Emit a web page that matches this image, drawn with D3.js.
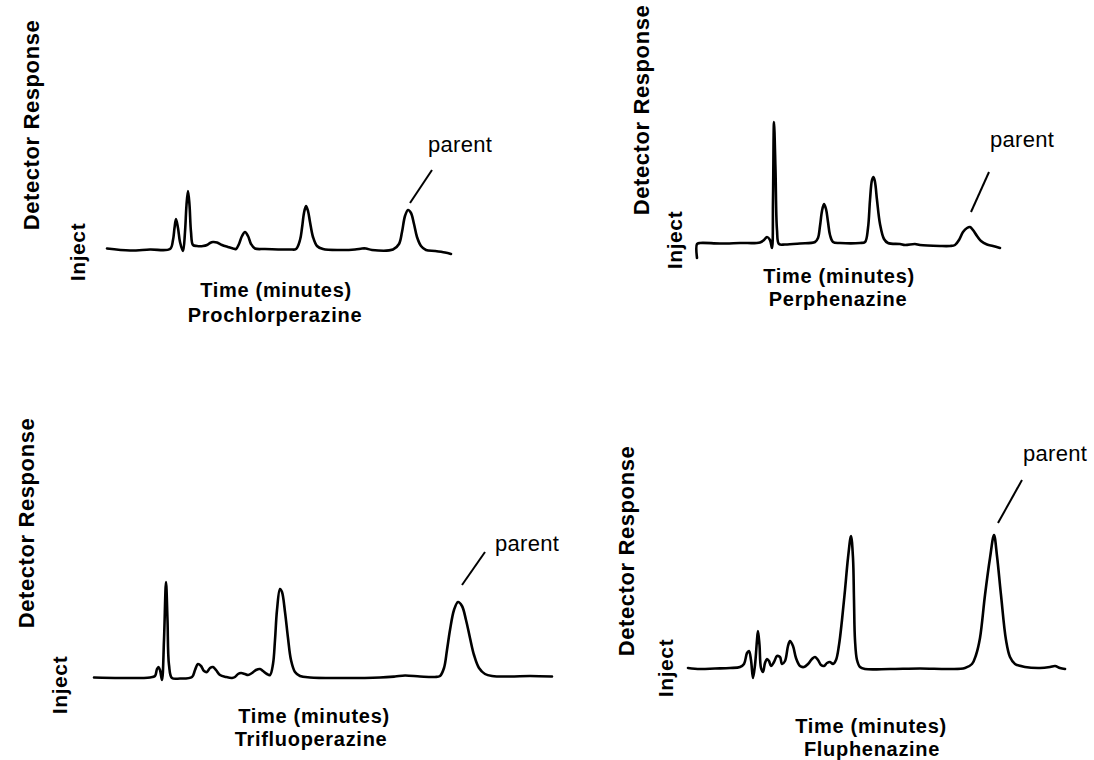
<!DOCTYPE html>
<html>
<head>
<meta charset="utf-8">
<script src="https://cdn.jsdelivr.net/npm/d3@7/dist/d3.min.js"></script>
<style>
  html, body { margin: 0; padding: 0; background: #fff; }
  svg { display: block; }
  .lbl { font-family: "Liberation Sans", Arial, sans-serif; fill: #000; }
  .bold { font-weight: bold; }
</style>
</head>
<body>
<svg id="chart" width="1094" height="760"></svg>
<script>
// Chromatogram traces: [retention time (min), detector response]
const prochlorperazineTrace = [
  [0,0.5],[1.15,-1.5],[2.15,-0.5],[3.15,0],[3.3,9],[3.375,21],[3.45,30],[3.55,21],[3.65,7],
  [3.8,-2],[3.9,17],[3.975,44],[4.05,58],[4.125,44],[4.2,17],[4.3,4],[4.5,3],[4.8,3],[5.0,4],
  [5.15,6],[5.3,7],[5.5,6.5],[5.75,4],[6.05,2],[6.3,0.5],[6.45,0],[6.6,5],[6.75,13],[6.9,17],
  [7.05,13],[7.2,5],[7.4,0.5],[7.9,0],[9.15,-0.5],[9.45,0],[9.65,9],[9.75,21],[9.85,36],
  [9.95,43],[10.05,38],[10.15,27],[10.3,12],[10.5,3],[10.8,0],[11.65,-1],[12.4,-0.5],
  [12.75,0.5],[12.95,0.5],[13.25,-1],[14.3,-0.5],[14.6,5],[14.75,17],[14.9,33],[15.05,39],
  [15.2,36],[15.35,25],[15.5,12],[15.7,3],[15.95,-1],[16.4,-2],[16.9,-3.5],[17.2,-5]
];
const perphenazineTrace = [
  [0,-15],[0,-1],[0.15,0],[1.15,-0.5],[2.15,0],[3.15,0.5],[3.35,3],[3.5,6],[3.65,3],[3.75,-5],
  [3.8,43],[3.85,121],[3.925,73],[4.0,13],[4.1,-1],[4.4,-1.5],[5.15,-0.5],[5.9,1],[6.05,5],
  [6.15,17],[6.25,32],[6.35,39],[6.45,34],[6.55,21],[6.65,8],[6.8,1],[7.15,0],[8.15,0],
  [8.4,1],[8.55,15],[8.65,43],[8.75,63],[8.825,66],[8.9,61],[9.0,43],[9.15,19],[9.35,4],
  [9.55,0],[10.15,-1],[10.4,-2],[10.9,-1],[11.15,-2],[12.15,-3],[12.65,-3],[12.9,-2],
  [13.1,3],[13.3,11],[13.5,15],[13.65,16],[13.8,13],[14.0,7],[14.2,2],[14.5,-1.5],
  [14.8,-3],[15.15,-5]
];
const trifluoperazineTrace = [
  [0,0.5],[1.3,0],[2.8,0.5],[3.05,2],[3.15,9],[3.225,11],[3.3,8],[3.4,-2],[3.5,38],[3.6,96],
  [3.675,58],[3.75,13],[3.9,0],[4.3,-0.5],[4.9,1],[5.05,8],[5.2,14],[5.35,12],[5.5,7],
  [5.65,6],[5.8,10],[5.95,11],[6.1,8],[6.3,3],[6.6,1],[6.9,0],[7.05,1],[7.2,4],[7.35,5],
  [7.55,4],[7.7,3],[7.9,5],[8.1,8],[8.3,9],[8.45,7],[8.65,4],[8.8,3],[8.95,14],[9.05,38],
  [9.15,68],[9.3,89],[9.4,86],[9.55,66],[9.7,40],[9.85,18],[10.05,6],[10.3,2],[10.8,0.5],
  [12.3,0],[14.3,0.5],[15.05,1.5],[15.55,2.5],[16.3,1.5],[17.05,1],[17.3,2],[17.5,10],
  [17.65,28],[17.8,48],[18.0,68],[18.2,76],[18.4,72],[18.6,58],[18.8,40],[19.0,23],
  [19.25,10],[19.55,4],[19.9,2],[20.8,1.5],[21.8,2],[22.9,1.5]
];
const fluphenazineTrace = [
  [0,0],[0.6,-1],[1.35,-0.5],[2.1,0],[2.6,1],[2.8,4],[2.95,15],[3.05,17],[3.15,8],[3.25,-10],
  [3.35,3],[3.45,28],[3.5,37],[3.575,23],[3.65,0],[3.75,-4],[3.85,5],[3.95,9],[4.05,7],
  [4.15,2],[4.3,6],[4.45,12],[4.6,11],[4.7,4],[4.85,7],[5.0,22],[5.1,27],[5.25,22],[5.4,10],
  [5.6,2],[5.8,1],[6.0,4],[6.2,9],[6.35,11],[6.5,8],[6.65,3],[6.8,2],[6.95,5],[7.1,6],
  [7.25,4],[7.4,8],[7.55,23],[7.7,48],[7.85,78],[8.0,110],[8.15,132],[8.25,110],[8.3,68],
  [8.35,28],[8.45,8],[8.6,1],[8.85,-1],[10.1,-1],[11.6,-0.5],[13.1,-1],[13.85,0],[14.2,4],
  [14.4,13],[14.6,30],[14.85,73],[15.1,110],[15.3,133],[15.45,112],[15.65,73],[15.9,28],
  [16.1,11],[16.35,4],[16.85,1],[17.6,0],[18.1,1],[18.35,2],[18.6,0],[18.85,-1]
];

// Drug names and the retention time of each parent peak
const drugNames = ["Prochlorperazine", "Perphenazine", "Trifluoperazine", "Fluphenazine"];
const parentTimes = [15.05, 13.65, 18.2, 15.3];
const traces = [prochlorperazineTrace, perphenazineTrace, trifluoperazineTrace, fluphenazineTrace];

const xTitle = "Time (minutes)";
const yTitle = "Detector Response";
const injectText = "Inject";
const peakText = "parent";

// Panel layout: trace box, axis-title positions, leader geometry
const layout = [
  { x0: 107, x1: 451, base: 249, yTitle: [39, 125], inject: [85, 252],
    xTitle: [276, 297], name: [275, 322], lead: [2, -7, 22, -33], tag: [-4, -18] },
  { x0: 697, x1: 1000, base: 243, yTitle: [649, 110], inject: [682, 240],
    xTitle: [839, 283], name: [838, 306], lead: [1, -15, 18, -40], tag: [1, -25] },
  { x0: 94, x1: 552, base: 678, yTitle: [34, 523], inject: [67, 685],
    xTitle: [314, 723], name: [311, 746], lead: [4, -17, 23, -33], tag: [10, -1] },
  { x0: 688, x1: 1065, base: 668, yTitle: [634, 551], inject: [673, 668],
    xTitle: [871, 733], name: [872, 756], lead: [4, -12, 24, -43], tag: [1, -19] }
];

const svg = d3.select("#chart");
svg.append("rect").attr("width", 1094).attr("height", 760).attr("fill", "#fff");

traces.forEach((trace, i) => {
  const L = layout[i];
  const tMax = d3.max(trace, d => d[0]);
  const x = d3.scaleLinear().domain([0, tMax]).range([L.x0, L.x1]);
  const y = d3.scaleLinear().domain([0, 100]).range([L.base, L.base - 100]);
  const g = svg.append("g");

  const line = d3.line()
    .x(d => x(d[0]))
    .y(d => y(d[1]))
    .curve(d3.curveCatmullRom.alpha(0.5));

  g.append("path")
    .datum(trace)
    .attr("d", line)
    .attr("fill", "none")
    .attr("stroke", "#000")
    .attr("stroke-width", 2.6)
    .attr("stroke-linejoin", "round")
    .attr("stroke-linecap", "round");

  // parent peak leader and tag
  const apex = trace.find(d => d[0] === parentTimes[i]);
  const px = x(apex[0]), py = y(apex[1]);
  const [dx0, dy0, dx1, dy1] = L.lead;
  const lx0 = px + dx0, ly0 = py + dy0, lx1 = lx0 + dx1, ly1 = ly0 + dy1;
  g.append("line")
    .attr("x1", lx0).attr("y1", ly0).attr("x2", lx1).attr("y2", ly1)
    .attr("stroke", "#000").attr("stroke-width", 2);
  g.append("text").attr("class", "lbl")
    .attr("x", lx1 + L.tag[0]).attr("y", ly1 + L.tag[1])
    .attr("font-size", 22).attr("letter-spacing", 0.3)
    .text(peakText);

  // axis titles
  g.append("text").attr("class", "lbl bold")
    .attr("transform", `translate(${L.yTitle[0]},${L.yTitle[1]}) rotate(-90)`)
    .attr("text-anchor", "middle").attr("font-size", 22).attr("letter-spacing", 0.6)
    .text(yTitle);
  g.append("text").attr("class", "lbl bold")
    .attr("transform", `translate(${L.inject[0]},${L.inject[1]}) rotate(-90)`)
    .attr("text-anchor", "middle").attr("font-size", 21).attr("letter-spacing", 0.6)
    .text(injectText);
  g.append("text").attr("class", "lbl bold")
    .attr("x", L.xTitle[0]).attr("y", L.xTitle[1])
    .attr("text-anchor", "middle").attr("font-size", 20).attr("letter-spacing", 0.7)
    .text(xTitle);
  g.append("text").attr("class", "lbl bold")
    .attr("x", L.name[0]).attr("y", L.name[1])
    .attr("text-anchor", "middle").attr("font-size", 20).attr("letter-spacing", 0.7)
    .text(drugNames[i]);
});
</script>
</body>
</html>
